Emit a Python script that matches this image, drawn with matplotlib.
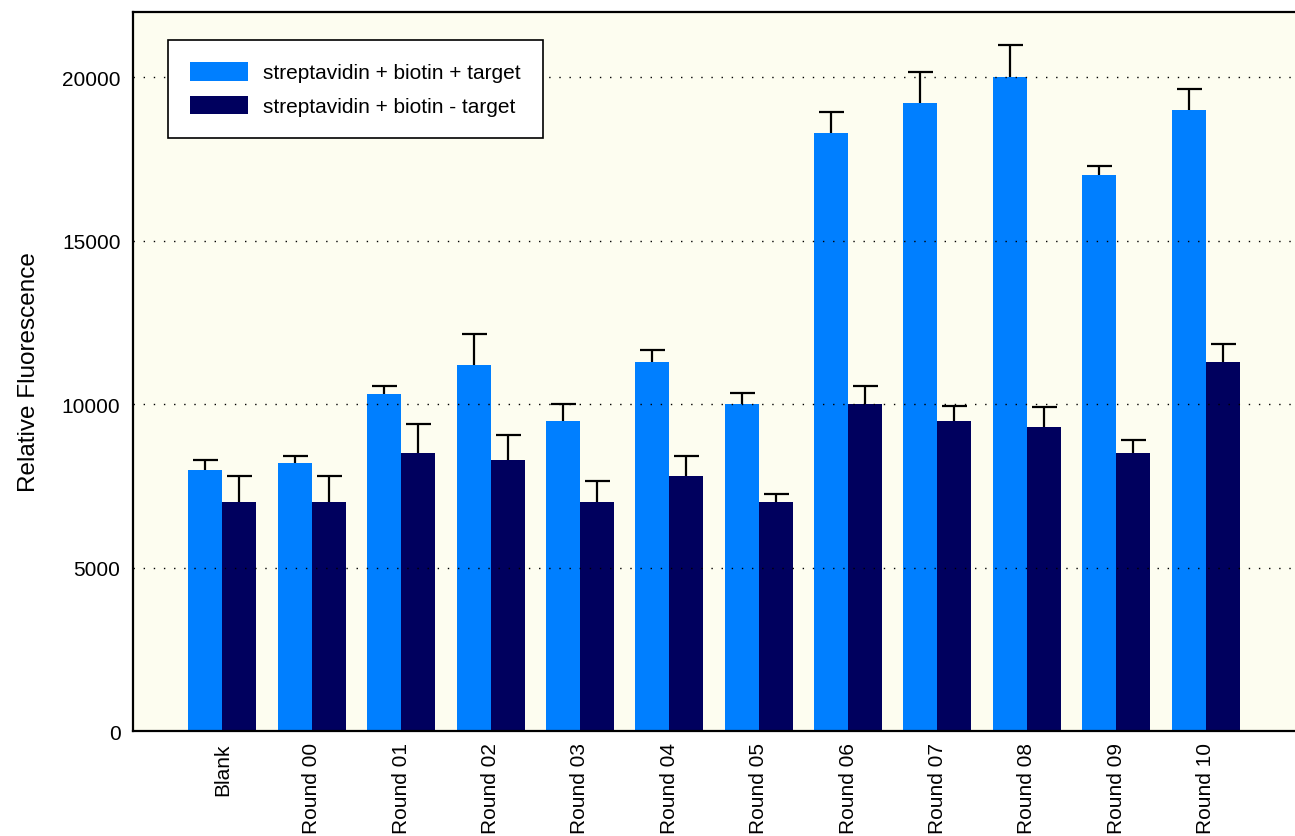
import numpy as np
import matplotlib
matplotlib.use("Agg")
import matplotlib.pyplot as plt

plt.rcParams['font.family'] = ['Liberation Sans', 'DejaVu Sans']

categories = ["Blank", "Round 00", "Round 01", "Round 02", "Round 03", "Round 04",
              "Round 05", "Round 06", "Round 07", "Round 08", "Round 09", "Round 10"]

# fluorescence with target present
with_target = [8000, 8200, 10300, 11200, 9500, 11300, 10000, 18300, 19200, 20000, 17000, 19000]
with_target_err = [300, 200, 250, 950, 500, 350, 350, 650, 950, 1000, 300, 650]

# fluorescence without target
no_target = [7000, 7000, 8500, 8300, 7000, 7800, 7000, 10000, 9500, 9300, 8500, 11300]
no_target_err = [800, 800, 900, 750, 650, 600, 250, 550, 450, 600, 400, 550]

light = '#007FFF'
dark = '#00005E'

fig = plt.figure(figsize=(12.95, 8.37), dpi=100)
ax = fig.add_axes([0.1027, 0.1254, 0.8973, 0.8591])
ax.set_facecolor('#FDFDF0')

x = np.arange(len(categories))
w = 0.38

ax.bar(x - w / 2, with_target, w, color=light, label='streptavidin + biotin + target', zorder=1)
ax.bar(x + w / 2, no_target, w, color=dark, label='streptavidin + biotin - target', zorder=1)


def upper_errorbar(xs, ys, err):
    # one-sided bars: draw both caps, then hide the one sitting on the bar top
    _, caps, _ = ax.errorbar(xs, ys, yerr=[np.zeros(len(xs)), err], fmt='none',
                             ecolor='black', elinewidth=1.6, capsize=9,
                             capthick=1.6, zorder=3)
    for cap in caps:
        if np.allclose(cap.get_ydata(), ys):
            cap.set_visible(False)


upper_errorbar(x - w / 2, with_target, with_target_err)
upper_errorbar(x + w / 2, no_target, no_target_err)

ax.set_xlim(-1, 12)
ax.set_ylim(0, 22000)
ax.set_yticks([0, 5000, 10000, 15000, 20000])
ax.set_xticks(x)
ax.set_xticklabels(categories, rotation=90, fontsize=15)
ax.tick_params(axis='y', labelsize=15, length=0, pad=9)
ax.tick_params(axis='x', length=0, pad=8)

ax.set_axisbelow(False)
ax.yaxis.grid(True, color='black', linewidth=1.0, linestyle=(0, (1, 6.3)))

for side in ['left', 'top', 'bottom']:
    ax.spines[side].set_linewidth(1.6)
ax.spines['right'].set_visible(False)

ax.set_ylabel('Relative Fluorescence', fontsize=17.5, labelpad=16)

leg = ax.legend(loc='upper left', bbox_to_anchor=(0.0301, 0.961), fontsize=15,
                fancybox=False, framealpha=1, edgecolor='black',
                handlelength=2.8, handleheight=1.0, borderpad=1.05,
                labelspacing=0.64, handletextpad=0.72, borderaxespad=0)
leg.get_frame().set_linewidth(1.2)

fig.savefig('out.png', dpi=100)
